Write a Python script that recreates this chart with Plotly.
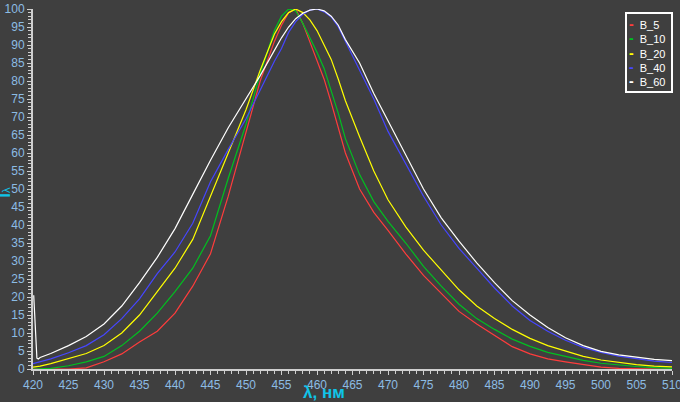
import plotly.graph_objects as go

# wavelength grid (nm)
wl = [420, 421, 422.5, 425, 427.5, 430, 432.5, 435, 437.5, 440, 442.5, 445, 447.5, 450,
      452, 454, 455, 456, 457, 458, 459, 460, 461, 462, 463, 464, 466, 468, 470, 472.5,
      475, 477.5, 480, 482.5, 485, 487.5, 490, 492.5, 495, 497.5, 500, 502.5, 505, 507.5, 510]

b5 = [0, 0, 0, 0, 0.3, 2, 4.2, 7.5, 10.5, 15.5, 23, 32, 48, 66, 80, 91, 95.5, 99, 100, 96,
      91, 86, 80.5, 74, 67, 60, 50, 43.5, 38.5, 32, 26, 21, 16, 12.5, 9.3, 6.2, 4.2, 2.8,
      2, 1.2, 0.5, 0.2, 0, 0, 0]

b10 = [0, 0, 0.2, 0.9, 2, 3.5, 6.5, 10.5, 15.5, 21.5, 28, 37, 53, 68, 82, 94, 98, 100, 99.5,
       96, 92, 88, 83.5, 77.5, 71, 64, 54, 46.5, 41, 35, 28.5, 23, 18, 14, 11, 8.3, 6.3,
       4.6, 3.4, 2.4, 1.6, 1.1, 0.7, 0.4, 0.2]

b20 = [0.5, 0.8, 1.5, 2.8, 4.3, 6.5, 10, 15, 21.5, 28, 36, 48, 60, 72, 83, 93, 96.5, 99, 100,
       99, 97, 94, 90, 86, 80.5, 74.5, 64.5, 55, 47, 39.5, 33, 27.5, 22, 17.5, 14, 11, 8.5,
       6.5, 5, 3.5, 2.5, 1.8, 1.2, 0.8, 0.6]

b40 = [1.5, 2, 2.8, 4.5, 6.5, 9.5, 14, 19.5, 26.5, 32.5, 40.5, 52, 61, 69.5, 77.5, 85.5, 89,
       93.5, 96.5, 98.5, 99.7, 100, 99.2, 97.8, 95, 91, 83, 75, 66, 57, 48, 40, 33.5, 28,
       22.5, 17.5, 13.5, 10.5, 8, 6, 4.6, 3.6, 2.8, 2.2, 1.8]

# B_60 has a start-up spike at the very first samples
wl_b60 = [420.1, 420.2, 420.35, 420.55, 420.75] + wl[1:]
b60 = [20.5, 15.5, 10.5, 3.0, 2.8,
       3.2, 4.3, 6.5, 9, 12.5, 17.5, 24, 31, 39, 48.5, 58, 67, 75, 81.5, 88.5, 92, 95, 97.3,
       98.8, 99.7, 100, 99.5, 98, 95.5, 91.5, 85, 76.5, 69, 59.5, 50, 42, 35.5, 29.5, 24,
       19, 15, 11.5, 8.7, 6.5, 4.9, 3.9, 3.2, 2.7, 2.3]

names = ["B_5", "B_10", "B_20", "B_40", "B_60"]
colors = ["#ff3c3c", "#00c020", "#ffff00", "#4646ff", "#ffffff"]
xs = [wl, wl, wl, wl, wl_b60]
ys = [b5, b10, b20, b40, b60]

BG = "#3f3f3f"
AX = "#cfcfcf"
TICKC = "#8cbce4"
CYAN = "#10c4e8"

fig = go.Figure()
for x, y, n, c in zip(xs, ys, names, colors):
    fig.add_trace(go.Scatter(x=x, y=y, mode="lines", name=n,
                             line=dict(color=c, width=1.2), showlegend=False))

axis_common = dict(
    showgrid=False, zeroline=False, showline=True, linecolor=AX, linewidth=2,
    ticks="outside", ticklen=4, tickwidth=1, tickcolor=AX,
    ticklabeloverflow="allow", automargin=False,
    tickfont=dict(family="Liberation Sans, Arial", size=12, color=TICKC),
)

fig.update_layout(
    width=680, height=402,
    margin=dict(l=33, r=8, t=9, b=33, autoexpand=False),
    paper_bgcolor=BG, plot_bgcolor=BG,
    xaxis=dict(range=[420, 510], dtick=5, tick0=420,
               minor=dict(dtick=1, ticks="outside", ticklen=3, tickcolor=AX),
               **axis_common),
    yaxis=dict(range=[0, 100], dtick=5, tick0=0,
               minor=dict(dtick=1, ticks="outside", ticklen=3, tickcolor=AX),
               **axis_common),
)

# axis titles
fig.add_annotation(text="<b>λ, нм</b>", xref="paper", yref="paper",
                   x=0.455, y=-0.064, xanchor="center", yanchor="middle",
                   showarrow=False,
                   font=dict(family="Liberation Sans, Arial", size=17, color=CYAN))
fig.add_annotation(text="<b>I</b><span style='font-size:11px'>λ</span>",
                   xref="paper", yref="paper", x=-0.045, y=0.49,
                   xanchor="center", yanchor="middle", textangle=-90,
                   showarrow=False,
                   font=dict(family="Liberation Sans, Arial", size=17, color=CYAN))

# legend box
legend_lines = []
for n, c in zip(names, colors):
    legend_lines.append(
        f"<span style='color:{c};font-size:14px'><b>-</b></span>&nbsp;&nbsp;{n}&nbsp;")
fig.add_annotation(text="<br>".join(legend_lines), xref="paper", yref="paper",
                   x=0.926, y=0.992, xanchor="left", yanchor="top", align="left",
                   showarrow=False, bgcolor=BG, bordercolor="#ffffff", borderwidth=2,
                   borderpad=2,
                   font=dict(family="Liberation Sans, Arial", size=11, color="#ffffff"))

fig.write_html("out.html", config={"displayModeBar": False},
               post_script="document.body.style.margin='0';document.body.style.overflow='hidden';document.body.style.background='%s';" % BG)
